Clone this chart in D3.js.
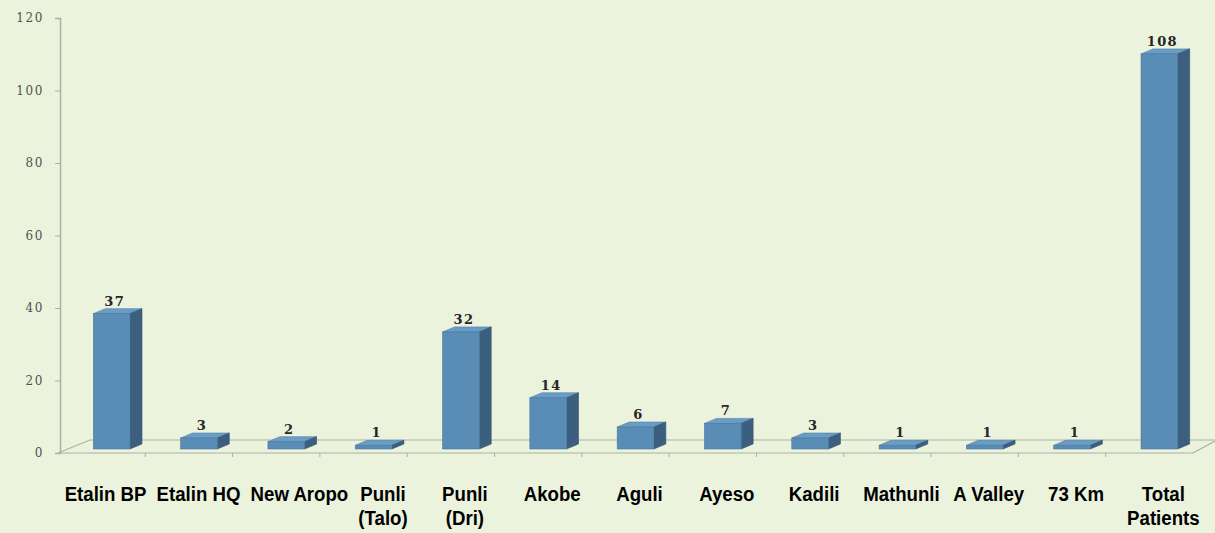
<!DOCTYPE html>
<html>
<head>
<meta charset="utf-8">
<script src="https://cdn.jsdelivr.net/npm/d3@7/dist/d3.min.js"></script>
<style>
  body { margin: 0; background: #ecf3dd; }
  svg { display: block; }
</style>
</head>
<body>
<div id="chart"></div>
<script>
// data
var categories = ['Etalin BP', 'Etalin HQ', 'New Aropo', 'Punli (Talo)', 'Punli (Dri)', 'Akobe',
                  'Aguli', 'Ayeso', 'Kadili', 'Mathunli', 'A Valley', '73 Km', 'Total Patients']
var catLines = [['Etalin BP'], ['Etalin HQ'], ['New Aropo'], ['Punli', '(Talo)'], ['Punli', '(Dri)'], ['Akobe'],
                ['Aguli'], ['Ayeso'], ['Kadili'], ['Mathunli'], ['A Valley'], ['73 Km'], ['Total', 'Patients']]
var patients = [37, 3, 2, 1, 32, 14, 6, 7, 3, 1, 1, 1, 108]
var yTicks = [0, 20, 40, 60, 80, 100, 120]

var W = 1215, H = 533
var depthX = 12, depthY = 5   // 3d look
var floorFront = 453, floorBack = 440
var left = 58, right = 1193

var svg = d3.select('#chart').append('svg')
    .attr('width', W)
    .attr('height', H)

svg.append('rect')
    .attr('width', W).attr('height', H)
    .attr('fill', '#ecf3dd')

// scales
var xEdge = d3.scaleBand()
    .domain(categories)
    .range([left, right])
    .padding(0)
var xBar = d3.scaleBand()
    .domain(categories)
    .range([left + 10, right + 10])
    .paddingInner(0.58)
    .paddingOuter(0.29)
var yAxisScale = d3.scaleLinear()
    .domain([0, 120])
    .range([floorFront, 18])
var yBar = d3.scaleLinear()
    .domain([0, 120])
    .range([449, 10])

// floor
var axisColor = '#aab1a7'
svg.append('path')
    .attr('d', 'M' + right + ',' + floorFront + 'L' + left + ',' + floorFront +
               'L' + (left + 32) + ',' + floorBack + 'L' + W + ',' + floorBack)
    .attr('fill', 'none')
    .attr('stroke', axisColor)
    .attr('stroke-width', 1.1)
svg.append('line')
    .attr('x1', right).attr('y1', floorFront)
    .attr('x2', W).attr('y2', floorFront - 12)
    .attr('stroke', axisColor).attr('stroke-width', 1.1)

// category ticks on the front edge
svg.selectAll('.xtick')
    .data(categories.slice(1))
    .enter()
  .append('line')
    .attr('class', 'xtick')
    .attr('x1', function (d) { return xEdge(d) })
    .attr('x2', function (d) { return xEdge(d) })
    .attr('y1', floorFront)
    .attr('y2', floorFront + 4)
    .attr('stroke', axisColor)

// y axis
var yAxis = d3.axisLeft(yAxisScale)
    .tickValues(yTicks)
    .tickSize(5)
    .tickPadding(11)
var yg = svg.append('g')
    .attr('transform', 'translate(60,0)')
    .call(yAxis)
yg.select('.domain').attr('stroke', axisColor).attr('stroke-width', 1.5)
yg.selectAll('.tick line').attr('stroke', axisColor)
yg.selectAll('.tick text')
    .attr('fill', '#505050')
    .style('font-family', 'DejaVu Serif, serif')
    .style('font-size', '12px')
    .style('letter-spacing', '1.6px')

// bars
var bw = xBar.bandwidth()
var bars = svg.selectAll('.bar')
    .data(patients)
    .enter()
  .append('g')
    .attr('class', 'bar')

bars.append('path') // top
    .attr('d', function (d, i) {
      var x0 = xBar(categories[i]), x1 = x0 + bw, yt = yBar(d)
      return 'M' + x0 + ',' + yt + 'L' + x1 + ',' + yt + 'L' + (x1 + depthX) + ',' + (yt - depthY) +
             'L' + (x0 + depthX) + ',' + (yt - depthY) + 'Z'
    })
    .attr('fill', '#6a9dc5')
    .attr('stroke', '#4d7ea6')
    .attr('stroke-width', 0.6)

bars.append('path') // side
    .attr('d', function (d, i) {
      var x1 = xBar(categories[i]) + bw, yt = yBar(d), yb = yBar(0)
      return 'M' + x1 + ',' + yt + 'L' + (x1 + depthX) + ',' + (yt - depthY) +
             'L' + (x1 + depthX) + ',' + (yb - depthY) + 'L' + x1 + ',' + yb + 'Z'
    })
    .attr('fill', '#3c5f7f')
    .attr('stroke', '#34546f')
    .attr('stroke-width', 0.6)

bars.append('rect') // front
    .attr('x', function (d, i) { return xBar(categories[i]) })
    .attr('y', function (d) { return yBar(d) })
    .attr('width', bw)
    .attr('height', function (d) { return yBar(0) - yBar(d) })
    .attr('fill', '#598db6')
    .attr('stroke', '#4a7aa0')
    .attr('stroke-width', 0.6)

// value labels
svg.selectAll('.val')
    .data(patients)
    .enter()
  .append('text')
    .attr('class', 'val')
    .attr('x', function (d, i) { return xBar(categories[i]) + bw / 2 + 3 })
    .attr('y', function (d) { return yBar(d) - depthY - 3 })
    .attr('text-anchor', 'middle')
    .attr('fill', '#262626')
    .style('font-family', 'DejaVu Serif, serif')
    .style('font-weight', 'bold')
    .style('font-size', '13px')
    .style('letter-spacing', '1.3px')
    .text(function (d) { return d })

// category labels
var sx = 0.91
var catText = svg.selectAll('.cat')
    .data(catLines)
    .enter()
  .append('text')
    .attr('class', 'cat')
    .attr('text-anchor', 'middle')
    .attr('fill', '#000')
    .style('font-family', 'Liberation Sans, Arial, sans-serif')
    .style('font-weight', 'bold')
    .style('font-size', '20.5px')
catText.selectAll('tspan')
    .data(function (d) { return d })
    .enter()
  .append('tspan')
    .attr('x', 0)
    .attr('y', function (d, i) { return i * 24 })
    .text(function (d) { return d })

// center under the bars, then push apart labels that would collide
var labelPos = catText.nodes().map(function (n, i) {
  return { cx: xBar(categories[i]) + bw / 2 + 4, w: n.getBBox().width * sx }
})
for (var it = 0; it < 20; it++) {
  for (var i = 0; i < labelPos.length - 1; i++) {
    var a = labelPos[i], b = labelPos[i + 1]
    var overlap = (a.cx + a.w / 2 + 10) - (b.cx - b.w / 2)
    if (overlap > 0) { a.cx -= overlap / 2; b.cx += overlap / 2 }
  }
}
catText.attr('transform', function (d, i) {
  return 'translate(' + labelPos[i].cx + ',501) scale(' + sx + ',1)'
})
</script>
</body>
</html>
